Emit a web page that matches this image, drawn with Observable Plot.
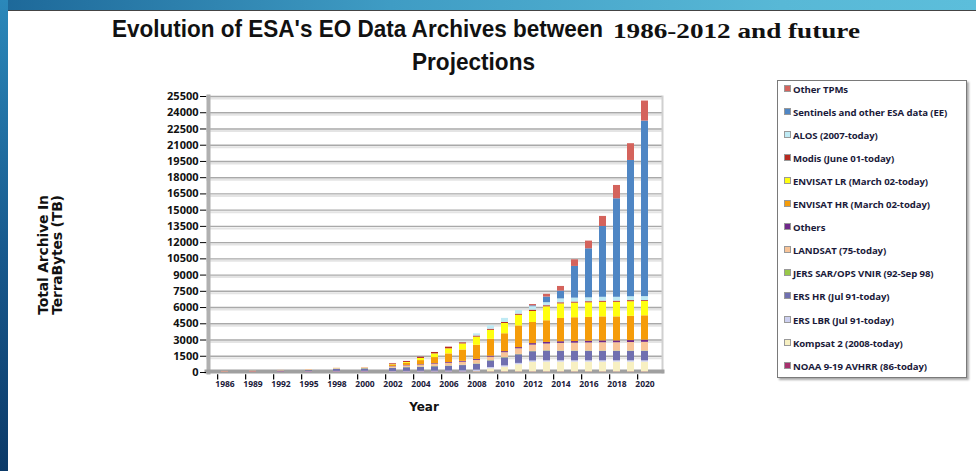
<!DOCTYPE html>
<html><head><meta charset="utf-8">
<script src="https://cdn.jsdelivr.net/npm/d3@7"></script>
<script src="https://cdn.jsdelivr.net/npm/@observablehq/plot@0.6"></script>
<style>
body{margin:0;width:976px;height:471px;overflow:hidden;background:#fff;position:relative;font-family:"Liberation Sans",Arial,sans-serif}
#topbar{position:absolute;left:0;top:0;width:976px;height:10px;background:linear-gradient(90deg,#1d6899,#3f9cc4 40%,#58b8d6 80%,#5cbedb);border-bottom:1px solid #444}
#leftbar{position:absolute;left:0;top:0;width:8px;height:471px;background:linear-gradient(180deg,#2b88ba,#17588c 55%,#0c3a68)}
.t{position:absolute;white-space:nowrap;color:#111;font-weight:bold;transform-origin:0 0}
.sans{font-family:"Liberation Sans",Arial,sans-serif;font-size:24px}
.serif{font-family:"Liberation Serif","DejaVu Serif",serif;font-size:21px}
#chart{position:absolute;left:0;top:0}
#ytitle{position:absolute;left:50px;top:255px;transform:translate(-50%,-50%) rotate(-90deg);font-family:"DejaVu Sans",sans-serif;font-weight:bold;font-size:14px;line-height:14px;text-align:center;white-space:nowrap;color:#111;letter-spacing:-0.2px}
#xtitle{position:absolute;left:424px;top:407px;transform:translate(-50%,-50%);font-family:"DejaVu Sans",sans-serif;font-weight:bold;font-size:12px;color:#111}
#legend{position:absolute;left:777px;top:80px;width:188px;height:296px;border:1px solid #7a7a7a;box-shadow:2px 2px 2px #aaa;background:#fff}
.item{position:absolute;left:6px;height:12px;line-height:12px;font-family:"Open Sans",sans-serif;font-weight:bold;font-size:9.6px;color:#1a1a3a;white-space:nowrap;letter-spacing:-0.1px}
.sw{display:inline-block;width:5px;height:5px;margin-right:2px;vertical-align:1px;border:0.5px solid #999}
</style></head>
<body>
<div id="topbar"></div><div id="leftbar"></div>
<div id="t1" class="t sans" style="left:112px;top:15px">Evolution of ESA's EO Data Archives between</div>
<div id="t2" class="t serif" style="left:613px;top:19px">1986-2012 and future</div>
<div id="t3" class="t sans" style="left:412px;top:48px">Projections</div>
<div id="chart"></div>
<div id="ytitle">Total Archive In<br>TerraBytes (TB)</div>
<div id="xtitle">Year</div>
<div id="legend"></div>
<script>
const years = ["1986","1988","1989","1991","1992","1994","1995","1997","1998","1999","2000","2001",
  "2002","2003","2004","2005","2006","2007","2008","2009","2010","2011","2012","2013","2014","2015","2016","2017","2018","2019","2020"];
const tickYears = ["1986","1989","1992","1995","1998","2000","2002","2004","2006","2008","2010","2012","2014","2016","2018","2020"];
const yTicks = [0,1500,3000,4500,6000,7500,9000,10500,12000,13500,15000,16500,18000,19500,21000,22500,24000,25500];

// series, bottom of stack first
const seriesNames = ["NOAA 9-19 AVHRR (86-today)","Kompsat 2 (2008-today)","ERS LBR (Jul 91-today)","ERS HR (Jul 91-today)",
  "JERS SAR/OPS VNIR (92-Sep 98)","LANDSAT  (75-today)","Others","ENVISAT HR (March 02-today)","ENVISAT LR (March 02-today)",
  "Modis (June 01-today)","ALOS (2007-today)","Sentinels and other ESA data (EE)","Other TPMs"];
const seriesColors = ["#a8306e","#f7f0c2","#cdd0f0","#7070b0","#98c848","#f8c498","#70288a","#f59c0a","#ffff10",
  "#b82a20","#bfeaf4","#4f86c4","#d4635c"];

const noaa     = [40,0,50,0,50,0,50,0,50,0,50,0, 40,40,40,40,40,40,40,40,40,40,40,40,40,40,40,40,40,40,40];
const kompsat  = [0,0,0,0,0,0,0,0,0,0,0,0, 0,0,0,0,0,0,60,300,450,680,900,920,920,920,920,920,920,920,920];
const ersLbr   = [0,0,0,0,30,0,40,0,60,0,70,0, 60,70,80,90,100,110,120,120,120,120,120,120,120,120,120,120,120,120,120];
const ersHr    = [0,0,0,0,50,0,80,0,180,0,210,0, 270,330,360,400,440,490,550,610,740,800,860,900,880,880,880,880,880,880,880];
const jers     = [0,0,0,0,10,0,20,0,30,0,30,0, 30,30,30,30,30,30,30,30,30,30,30,30,30,30,30,30,30,30,30];
const landsat  = [60,0,70,0,60,0,70,0,80,0,90,0, 120,140,160,200,240,280,320,320,450,520,580,620,700,720,740,760,760,780,800];
const others   = [0,0,0,0,0,0,0,0,0,0,0,0, 30,40,50,60,70,80,90,90,100,110,140,150,150,150,160,170,170,180,200];
const envHr    = [0,0,0,0,0,0,0,0,0,0,0,0, 120,200,380,560,800,1050,1300,1560,1650,2000,1950,2000,2150,2200,2200,2220,2220,2240,2250];
const envLr    = [0,0,0,0,0,0,0,0,0,0,0,0, 50,80,200,340,470,560,760,830,950,990,1020,1290,1350,1350,1350,1350,1350,1350,1320];
const modis    = [0,0,0,0,0,0,0,0,0,0,0,0, 80,90,110,130,150,110,100,100,100,100,120,100,100,100,100,100,100,100,80];
const alos     = [0,0,0,0,0,0,0,0,0,0,0,0, 0,0,0,0,0,50,200,310,370,330,320,280,360,360,360,360,360,360,370];
const sentinel = [0,0,0,0,0,0,0,0,0,0,0,0, 0,0,0,0,0,0,0,0,0,0,80,520,720,2930,4530,6540,9100,12590,16220];
const tpms     = [0,0,0,0,0,0,0,0,0,0,0,0, 0,0,0,0,0,0,0,0,0,0,120,250,430,610,710,930,1230,1550,1850];

const seriesValues = [noaa,kompsat,ersLbr,ersHr,jers,landsat,others,envHr,envLr,modis,alos,sentinel,tpms];
const table = [];
years.forEach((yr,i) => seriesNames.forEach((s,j) => table.push({year: yr, series: s, value: seriesValues[j][i]})));

const step = (662 - 206) / years.length;
const plot = Plot.plot({
  width: 976, height: 471,
  marginLeft: 206, marginRight: 314, marginTop: 96, marginBottom: 99,
  x: {domain: years, padding: 0.52, axis: null},
  y: {domain: [0, 25500], axis: null},
  color: {domain: seriesNames, range: seriesColors},
  style: {background: "transparent", overflow: "visible"},
  marks: [
    Plot.ruleY(yTicks.slice(1), {stroke: "#e4e4e4", strokeWidth: 2, dy: 2}),
    Plot.ruleY(yTicks.slice(1), {stroke: "#a9a9a9", strokeWidth: 1.4}),
    Plot.frame({anchor: "right", stroke: "#d0d0d0", strokeWidth: 2}),
    Plot.frame({anchor: "left", stroke: "#b0b0b0", strokeWidth: 4, dx: 2}),
    Plot.frame({anchor: "bottom", stroke: "#a0a0a0", strokeWidth: 4, dy: -1}),
    Plot.axisY({ticks: yTicks, tickFormat: d => String(d), tickSize: 6, tickPadding: 2, label: null,
      fontSize: 11, fontWeight: "bold", fontFamily: "Open Sans, sans-serif", fill: "#111", stroke: "#000"}),
    Plot.barY(table, {x: "year", y: "value", fill: "series"}),
    Plot.ruleX(tickYears, {x: d => d, y1: -200, y2: -700, dx: -step / 2, stroke: "#000", strokeWidth: 1.2}),
    Plot.axisX({ticks: tickYears, tickSize: 0, tickPadding: 8, fontSize: 8.5, fontWeight: "bold", label: null,
      fontFamily: "Open Sans, sans-serif", fill: "#1a1a3a"})
  ]
});
document.getElementById("chart").appendChild(plot);

const legend = document.getElementById("legend");
const legendOrder = seriesNames.map((s,i) => [s, seriesColors[i]]).reverse();
legendOrder.forEach(([s,c],k) => {
  const d = document.createElement("div");
  d.className = "item";
  d.style.top = (3 + k * 23.05) + "px";
  d.innerHTML = `<span class="sw" style="background:${c}"></span>${s}`;
  legend.appendChild(d);
});

function fit(id, target) {
  const el = document.getElementById(id);
  const w = el.getBoundingClientRect().width;
  el.style.transform = `scaleX(${target / w})`;
}
fit("t1", 491); fit("t2", 247); fit("t3", 123);
</script>
</body></html>
